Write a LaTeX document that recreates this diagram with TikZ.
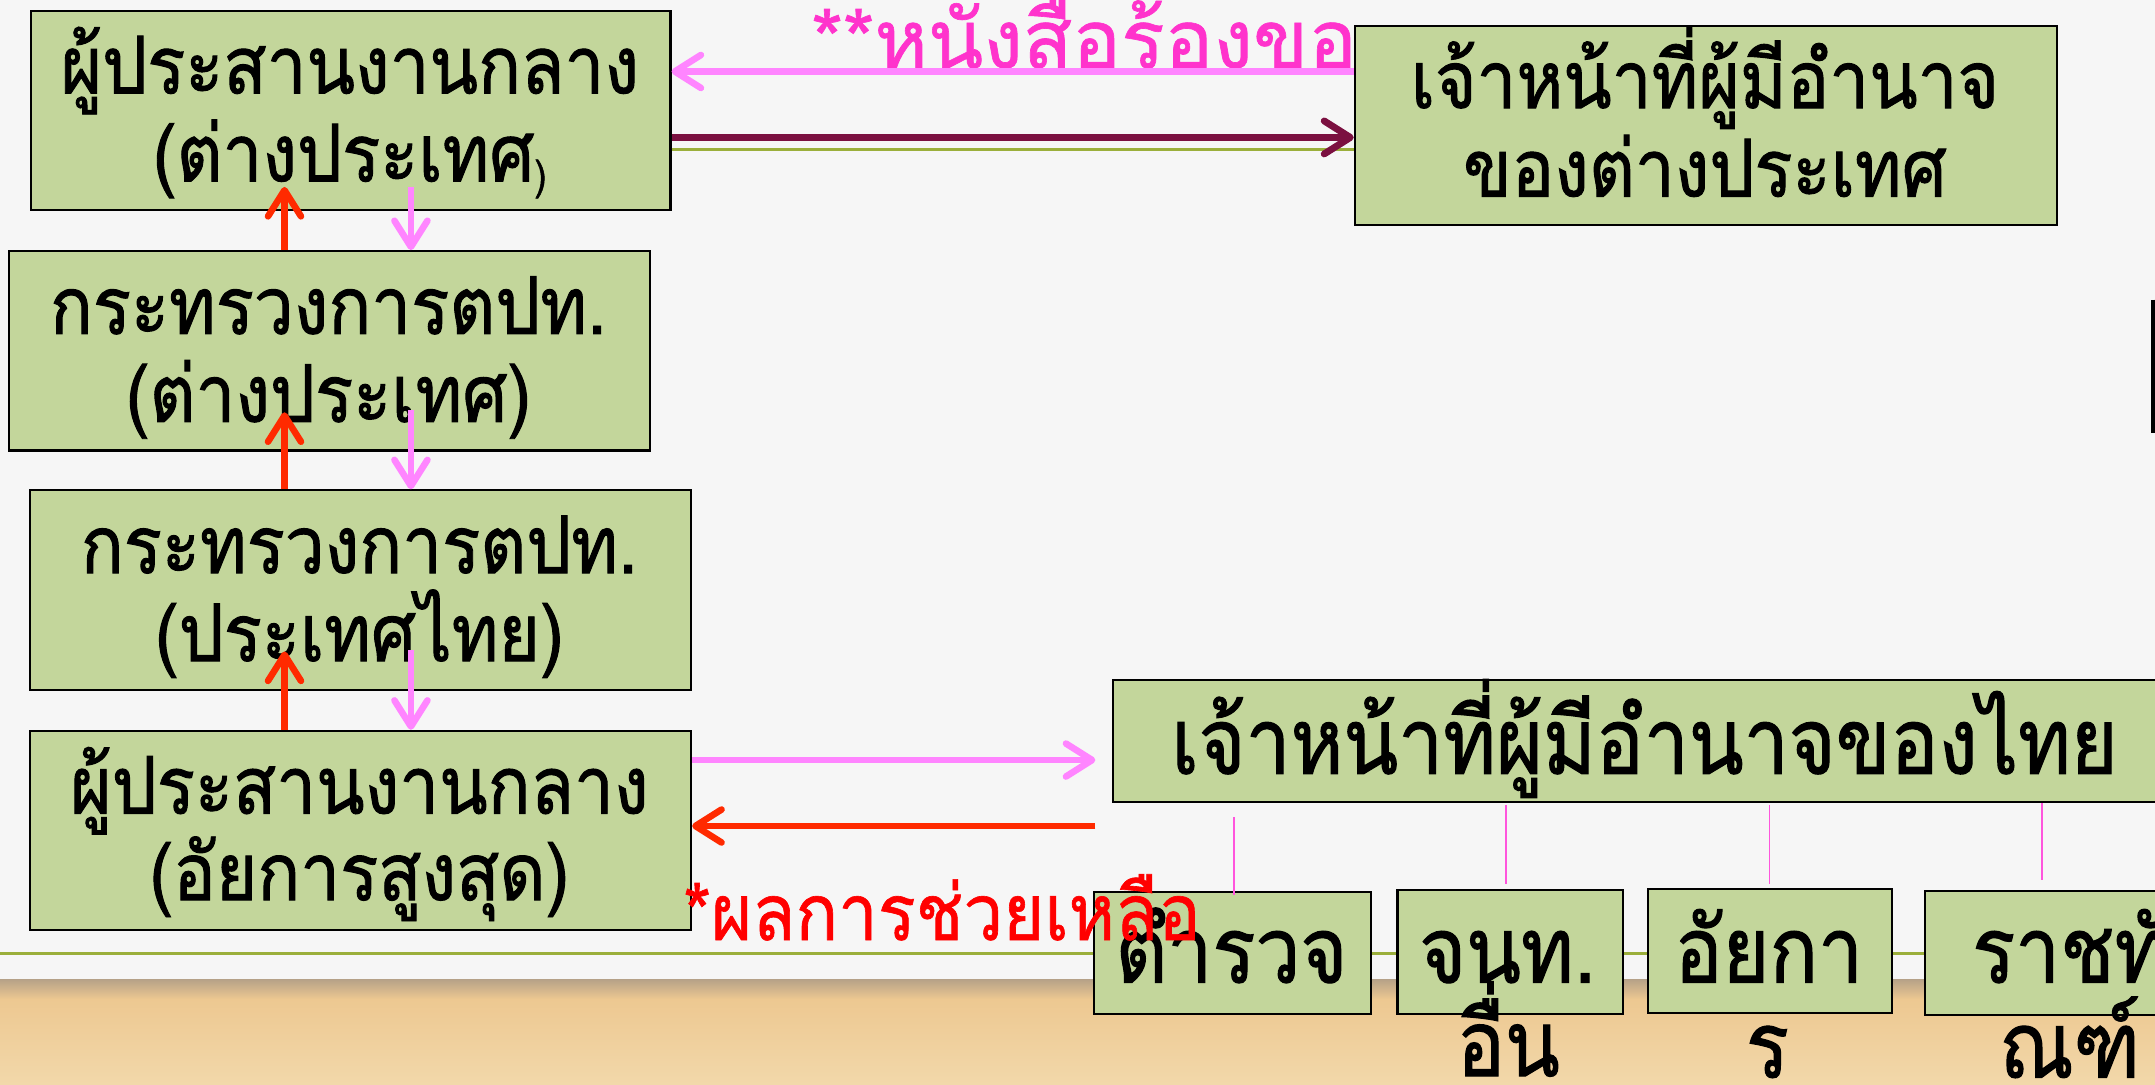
\documentclass[tikz,border=0pt]{standalone}
\usepackage{fontspec}
\usetikzlibrary{arrows.meta,calc}
\newfontfamily\thaifont[Script=Thai]{Loma}
\newfontfamily\boxthai[Script=Thai, FakeStretch=0.89, FakeBold=1.2]{Loma}
\newfontfamily\bigthai[Script=Thai, FakeStretch=0.87, FakeBold=1.2]{Loma}
\newfontfamily\redthai[Script=Thai, FakeStretch=0.9, FakeBold=0.8]{Loma}
\newfontfamily\pinkthai[Script=Thai, FakeBold=0.8]{Loma}
\definecolor{boxfill}{HTML}{C3D69B}
\definecolor{pinkarrow}{HTML}{FF85FF}
\definecolor{maroonarrow}{HTML}{7B1040}
\definecolor{redarrow}{HTML}{FF2A00}
\definecolor{pinktext}{HTML}{FF33CC}
\definecolor{redtext}{HTML}{FF0000}
\definecolor{oliveline}{HTML}{9BAF3B}
\definecolor{thinpink}{HTML}{FF55DD}
\definecolor{bgcol}{HTML}{F6F6F6}
\definecolor{shadowcol}{HTML}{B8A388}
\definecolor{tanB}{HTML}{EDC891}
\definecolor{tanC}{HTML}{F2D8AA}
\newcommand\boxfont{\boxthai\fontsize{29}{34}\selectfont}
\newcommand\bigboxfont{\bigthai\fontsize{33.5}{38}\selectfont}
\begin{document}
\begin{tikzpicture}[x=0.5pt,y=-0.5pt,
  slidebox/.style={draw=black, line width=0.8pt, fill=boxfill, inner sep=0pt, anchor=north west},
  lbl/.style={inner sep=0pt, anchor=base, font=\boxfont},
  biglbl/.style={inner sep=0pt, anchor=base, font=\bigboxfont},
  tipopen/.style={-{Straight Barb[length=9.5pt,width=12pt,round]}},
  pinkA/.style={tipopen, draw=pinkarrow, line width=2.4pt},
  redA/.style={tipopen, draw=redarrow, line width=2.4pt},
  maroonA/.style={tipopen, draw=maroonarrow, line width=2.5pt},
  thinlink/.style={draw=thinpink, line width=0.7pt}]
\useasboundingbox (0,0) rectangle (1568,789);
% background
\fill[bgcol] (0,0) rectangle (1568,713);
\shade[top color=shadowcol, bottom color=tanB] (0,713) rectangle (1568,727);
\shade[top color=tanB, bottom color=tanC] (0,727) rectangle (1568,789);
\draw[oliveline, line width=1.2pt] (0,693.6) -- (1568,693.6);
% pink heading text
\node[inner sep=0pt, anchor=base west, text=pinktext, font=\pinkthai\fontsize{29.5}{34}\selectfont] (req) at (590,49.5) {**หนังสือร้องขอ};
% boxes
\node[slidebox, minimum width=232.5pt, minimum height=72.5pt] (A) at (22,7) {};
\node[slidebox, minimum width=255.5pt, minimum height=72.5pt] (B) at (985,18) {};
\node[slidebox, minimum width=233pt, minimum height=72.5pt] (C) at (6,182) {};
\node[slidebox, minimum width=240.5pt, minimum height=72.5pt] (D) at (21,356) {};
\node[slidebox, minimum width=240.5pt, minimum height=72.5pt] (E) at (21,531) {};
\node[slidebox, minimum width=410pt, minimum height=44.5pt] (F) at (809,494) {};
\node[slidebox, minimum width=101pt, minimum height=44.5pt] (G) at (795,648) {};
\node[slidebox, minimum width=82pt, minimum height=45pt] (H) at (1016,647) {};
\node[slidebox, minimum width=89pt, minimum height=45pt] (I) at (1198,646) {};
\node[slidebox, minimum width=106pt, minimum height=45pt] (J) at (1400,647.5) {};
\draw[black, line width=1.2pt] (1566.5,218) -- (1566.5,315);
% olive line between top boxes
\draw[oliveline, line width=1pt] ($(A.north east)+(0,101.5)$) -- ($(B.north west)+(0,90.5)$);
% box texts
\node[lbl] (tA1) at (254.5,68) {ผู้ประสานงานกลาง};
\node[lbl] (tA2) at (254.5,132) {(ต่างประเทศ\raisebox{-3pt}{\fontsize{15}{15}\selectfont )}};
\node[lbl] (tB1) at (1240.5,78.6) {เจ้าหน้าที่ผู้มีอำนาจ};
\node[lbl] (tB2) at (1240.5,143) {ของต่างประเทศ};
\node[lbl] (tC1) at (239,243) {กระทรวงการตปท.};
\node[lbl] (tC2) at (239,307) {(ต่างประเทศ)};
\node[lbl] (tD1) at (261.5,417) {กระทรวงการตปท.};
\node[lbl] (tD2) at (261.5,481) {(ประเทศไทย)};
\node[lbl] (tE1) at (261.5,592) {ผู้ประสานงานกลาง};
\node[lbl] (tE2) at (261.5,655) {(อัยการสูงสุด)};
\node[biglbl] (tF) at (1196.5,563) {เจ้าหน้าที่ผู้มีอำนาจของไทย};
\node[biglbl] (tG) at (896,715) {ตำรวจ};
\node[biglbl] (tH1) at (1097,715) {จนท.};
\node[biglbl] (tH2) at (1097.5,783) {อื่น};
\node[biglbl] (tI1) at (1287,715) {อัยกา};
\node[biglbl] (tI2) at (1286,784) {ร};
\node[biglbl] (tJ1) at (1506,715) {ราชทั};
\node[biglbl] (tJ2) at (1506,784) {ณฑ์};
% top horizontal arrows
\draw[pinkA] ($(B.north west)+(0,34)$) -- ($(A.north east)+(0,45)$);
\draw[maroonA] ($(A.north east)+(0,93)$) -- ($(B.north west)+(0,82)$);
% vertical arrows
\draw[redA] ($(C.north west)+(201,0)$) -- ($(A.north west)+(185,129)$);
\draw[redA] ($(D.north west)+(186,0)$) -- ($(C.north west)+(201,118)$);
\draw[redA] ($(E.north west)+(186,0)$) -- ($(D.north west)+(186,118)$);
\draw[pinkA] ($(A.north west)+(277,129)$) -- ($(C.north west)+(293,0)$);
\draw[pinkA] ($(C.north west)+(293,116)$) -- ($(D.north west)+(278,0)$);
\draw[pinkA] ($(D.north west)+(278,117)$) -- ($(E.north west)+(278,0)$);
% bottom horizontal arrows
\draw[pinkA] ($(E.north east)+(0,22)$) -- ($(F.north west)+(-12,59)$);
\draw[redA] ($(F.north west)+(-12,107)$) -- ($(E.north east)+(0,70)$);
% thin links
\draw[thinlink] ($(F.south west)+(89,10)$) -- ($(G.north west)+(103,3)$);
\draw[thinlink] ($(F.south west)+(287,1)$) -- ($(H.north west)+(80,-4)$);
\draw[thinlink] ($(F.south west)+(478.5,1)$) -- ($(I.north west)+(89.5,-3)$);
\draw[thinlink] ($(F.south west)+(676.5,0)$) -- ($(J.north west)+(85.5,-7.5)$);
% red result text
\node[inner sep=0pt, anchor=base west, text=redtext, font=\redthai\fontsize{28.5}{33}\selectfont] (res) at (497,684) {*ผลการช่วยเหลือ};
\end{tikzpicture}
\end{document}
